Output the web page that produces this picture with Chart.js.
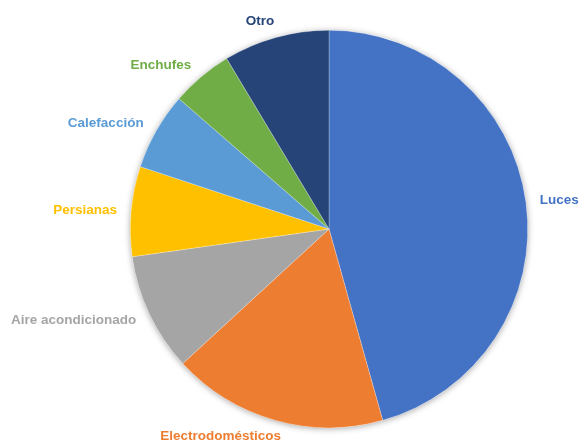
<!DOCTYPE html>
<html>
<head>
<meta charset="utf-8">
<script src="https://cdn.jsdelivr.net/npm/chart.js@4/dist/chart.umd.min.js"></script>
<style>
    html, body { margin: 0; padding: 0; background: #fff; }
    #wrap { width: 581px; height: 445px; }
</style>
</head>
<body>
<div id="wrap"><canvas id="consumoChart"></canvas></div>
<script>
// Consumo por tipo (porcentaje)
const categories = ['Luces', 'Electrodomésticos', 'Aire acondicionado', 'Persianas', 'Calefacción', 'Enchufes', 'Otro'];
const values = [45.6, 17.5, 9.6, 7.3, 6.3, 5.0, 8.6];
const colors = ['#4472C4', '#ED7D31', '#A5A5A5', '#FFC000', '#5B9BD5', '#70AD47', '#264478'];

// soft shadow behind the pie
const pieShadow = {
    id: 'pieShadow',
    beforeDatasetsDraw(chart) {
        const arc = chart.getDatasetMeta(0).data[0];
        if (!arc) return;
        const ctx = chart.ctx;
        ctx.save();
        ctx.shadowColor = 'rgba(0,0,0,0.35)';
        ctx.shadowBlur = 6;
        ctx.shadowOffsetY = 1;
        ctx.fillStyle = '#fff';
        ctx.beginPath();
        ctx.arc(arc.x, arc.y, arc.outerRadius, 0, Math.PI * 2);
        ctx.fill();
        ctx.restore();
    }
};

// category names outside each slice
const outsideLabels = {
    id: 'outsideLabels',
    afterDatasetsDraw(chart) {
        const ctx = chart.ctx;
        const meta = chart.getDatasetMeta(0);
        ctx.save();
        ctx.font = 'bold 13.5px "Liberation Sans", Arial, sans-serif';
        ctx.textBaseline = 'middle';
        ctx.textAlign = 'center';
        meta.data.forEach((arc, i) => {
            const mid = (arc.startAngle + arc.endAngle) / 2;
            const c = Math.cos(mid);
            const r = arc.outerRadius + 18 - 4 * Math.abs(c);
            const w = ctx.measureText(categories[i]).width;
            // labels near top/bottom lean toward centre alignment
            const shift = Math.sign(c) * Math.min(1, Math.abs(c) * 3) * w / 2;
            const x = arc.x + c * r + shift;
            const y = arc.y + Math.sin(mid) * r;
            ctx.fillStyle = colors[i];
            ctx.fillText(categories[i], x, y);
        });
        ctx.restore();
    }
};

new Chart(document.getElementById('consumoChart'), {
    type: 'pie',
    data: {
        labels: categories,
        datasets: [{
            data: values,
            backgroundColor: colors,
            borderColor: 'rgba(255,255,255,0.5)',
            borderWidth: 0.5
        }]
    },
    options: {
        responsive: true,
        maintainAspectRatio: false,
        animation: false,
        layout: {
            padding: { left: 130, right: 53, top: 30, bottom: 17 }
        },
        plugins: {
            legend: { display: false },
            tooltip: { enabled: false }
        }
    },
    plugins: [pieShadow, outsideLabels]
});
</script>
</body>
</html>
